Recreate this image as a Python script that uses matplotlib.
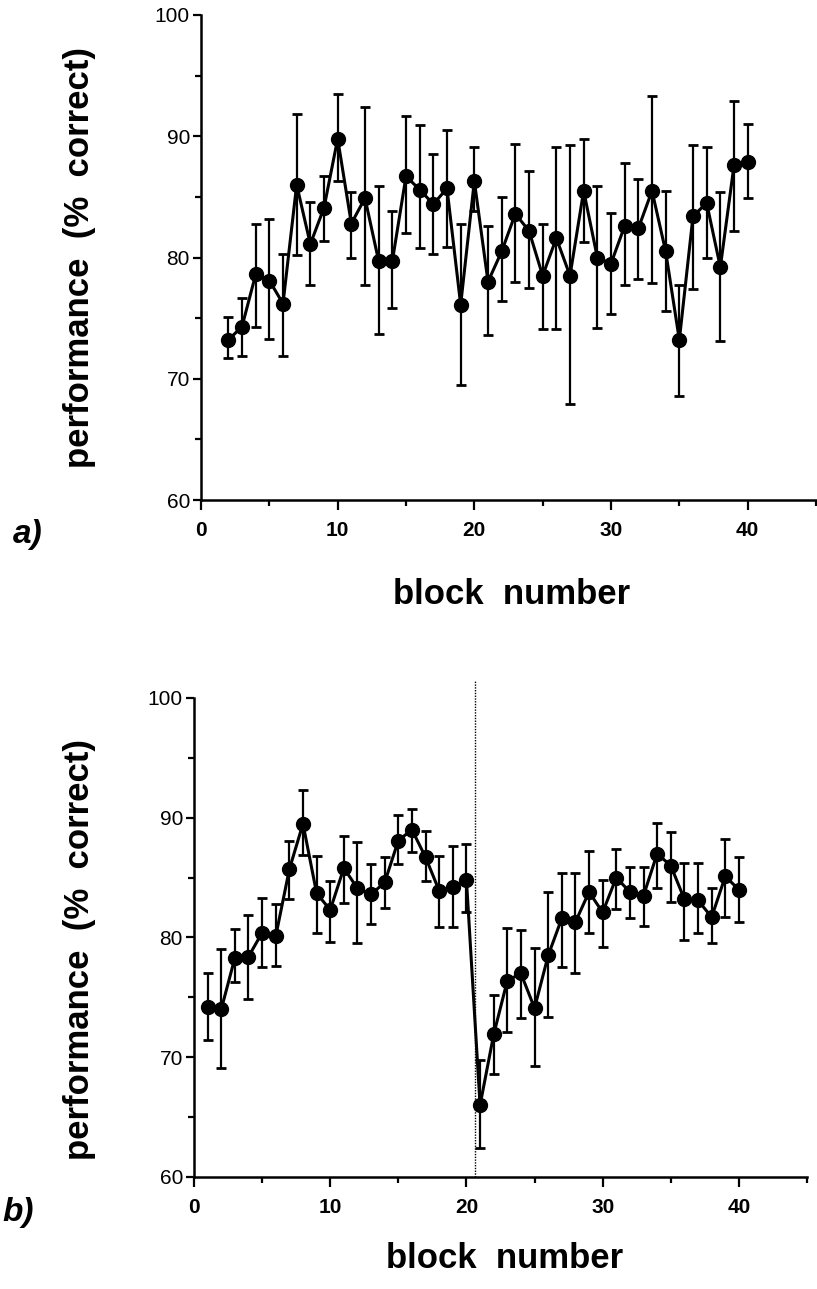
import numpy as np
import matplotlib
matplotlib.use("Agg")
import matplotlib.pyplot as plt
from matplotlib.ticker import MultipleLocator

plt.rcParams.update({
    "font.family": ["Liberation Sans", "DejaVu Sans"],
    "axes.spines.top": False,
    "axes.spines.right": False,
})

# ---- panel a) : blocks 2..40 ----
blocks_a = list(range(2, 41))
perf_a = [73.2, 74.3, 78.6, 78.1, 76.2, 86.0, 81.1, 84.1, 89.8, 82.8,
          84.9, 79.7, 79.7, 86.7, 85.6, 84.4, 85.7, 76.1, 86.3, 78.0,
          80.5, 83.6, 82.2, 78.5, 81.6, 78.5, 85.5, 80.0, 79.5, 82.6,
          82.4, 85.5, 80.5, 73.2, 83.4, 84.5, 79.2, 87.6, 87.9]
top_a = [75.1, 76.7, 82.8, 83.2, 80.3, 91.8, 84.6, 86.7, 93.5, 85.4,
         92.4, 85.9, 83.8, 91.7, 90.9, 88.5, 90.5, 82.8, 89.1, 82.6,
         85.0, 89.4, 87.1, 82.8, 89.1, 89.3, 89.8, 85.9, 83.7, 87.8,
         86.5, 93.3, 85.5, 77.7, 89.3, 89.1, 85.4, 92.9, 91.0]
bot_a = [71.7, 71.9, 74.3, 73.3, 71.9, 80.2, 77.7, 81.4, 86.3, 80.0,
         77.7, 73.7, 75.8, 82.0, 80.8, 80.3, 80.9, 69.5, 83.8, 73.6,
         76.4, 78.0, 77.5, 74.1, 74.1, 67.9, 81.3, 74.2, 75.3, 77.7,
         78.2, 77.9, 75.6, 68.6, 77.4, 80.0, 73.1, 82.2, 84.9]

# ---- panel b) : blocks 1..40, switch after block 20 ----
blocks_b = list(range(1, 41))
perf_b = [74.2, 74.0, 78.3, 78.4, 80.4, 80.1, 85.7, 89.5, 83.7, 82.3,
          85.8, 84.1, 83.6, 84.6, 88.1, 89.0, 86.7, 83.9, 84.2, 84.8,
          66.0, 71.9, 76.4, 77.0, 74.1, 78.5, 81.6, 81.3, 83.8, 82.1,
          85.0, 83.8, 83.5, 87.0, 86.0, 83.2, 83.1, 81.7, 85.1, 84.0]
top_b = [77.0, 79.0, 80.7, 81.9, 83.3, 82.8, 88.1, 92.3, 86.8, 84.7,
         88.5, 88.0, 86.1, 86.7, 90.2, 90.7, 88.9, 86.8, 87.6, 87.8,
         69.8, 75.2, 80.8, 80.6, 79.1, 83.8, 85.4, 85.4, 87.2, 84.8,
         87.4, 85.9, 85.9, 89.6, 88.8, 86.2, 86.2, 84.1, 88.2, 86.7]
bot_b = [71.4, 69.1, 76.3, 74.9, 77.5, 77.6, 83.2, 86.9, 80.4, 79.6,
         82.9, 79.5, 81.1, 82.5, 86.1, 87.1, 84.7, 80.9, 80.9, 82.1,
         62.4, 68.6, 72.1, 73.3, 69.3, 73.4, 77.5, 77.0, 80.4, 79.2,
         82.4, 81.6, 81.0, 84.1, 83.0, 79.8, 80.4, 79.5, 81.7, 81.3]
switch_b = 20.6

W, H = 817, 1289
fig = plt.figure(figsize=(W / 100, H / 100), dpi=100)


def px_axes(left, top, right, bottom):
    return fig.add_axes([left / W, 1 - bottom / H, (right - left) / W, (bottom - top) / H])


def style(ax):
    ax.set_xlim(0, 45)
    ax.set_ylim(60, 100)
    ax.xaxis.set_major_locator(MultipleLocator(10))
    ax.xaxis.set_minor_locator(MultipleLocator(5))
    ax.yaxis.set_major_locator(MultipleLocator(10))
    ax.yaxis.set_minor_locator(MultipleLocator(5))
    for s in ("left", "bottom"):
        ax.spines[s].set_linewidth(1.8)
    ax.tick_params(axis="both", which="both", direction="out", width=1.6, colors="black")
    ax.tick_params(axis="y", which="major", length=6, pad=2, labelsize=15)
    ax.tick_params(axis="y", which="minor", length=4)
    ax.tick_params(axis="x", which="major", length=7, pad=8, labelsize=15)
    ax.tick_params(axis="x", which="minor", length=4)
    for t in ax.get_xticklabels():
        t.set_fontweight("bold")


def draw(ax, x, y, top, bot):
    y = np.array(y)
    yerr = [y - np.array(bot), np.array(top) - y]
    ax.errorbar(x, y, yerr=yerr, fmt="-o", color="black", lw=2.2, ms=10,
                elinewidth=1.6, capsize=3.5, capthick=2, clip_on=False, zorder=3)


ax_a = px_axes(201, 15, 816, 500)
draw(ax_a, blocks_a, perf_a, top_a, bot_a)
style(ax_a)

ax_b = px_axes(194, 698, 807, 1177)
draw(ax_b, blocks_b, perf_b, top_b, bot_b)
ax_b.plot([switch_b, switch_b], [60, 101.4], color="black", lw=1.0,
          linestyle=(0, (1, 1)), clip_on=False)
style(ax_b)

lab = dict(fontsize=25, fontweight="bold", ha="center", va="center")
fig.text(80 / W, 1 - 258 / H, "performance  (%  correct)", rotation=90, **lab)
fig.text(80 / W, 1 - 950 / H, "performance  (%  correct)", rotation=90, **lab)
fig.text(512 / W, 1 - 595 / H, "block  number", **lab)
fig.text(505 / W, 1 - 1258 / H, "block  number", **lab)

fig.text(28 / W, 1 - 535 / H, "a)", fontsize=24, fontweight="bold", style="italic",
         ha="center", va="center")
fig.text(18 / W, 1 - 1212 / H, "b)", fontsize=24, fontweight="bold", style="italic",
         ha="center", va="center")

fig.savefig("out.png", dpi=100)
